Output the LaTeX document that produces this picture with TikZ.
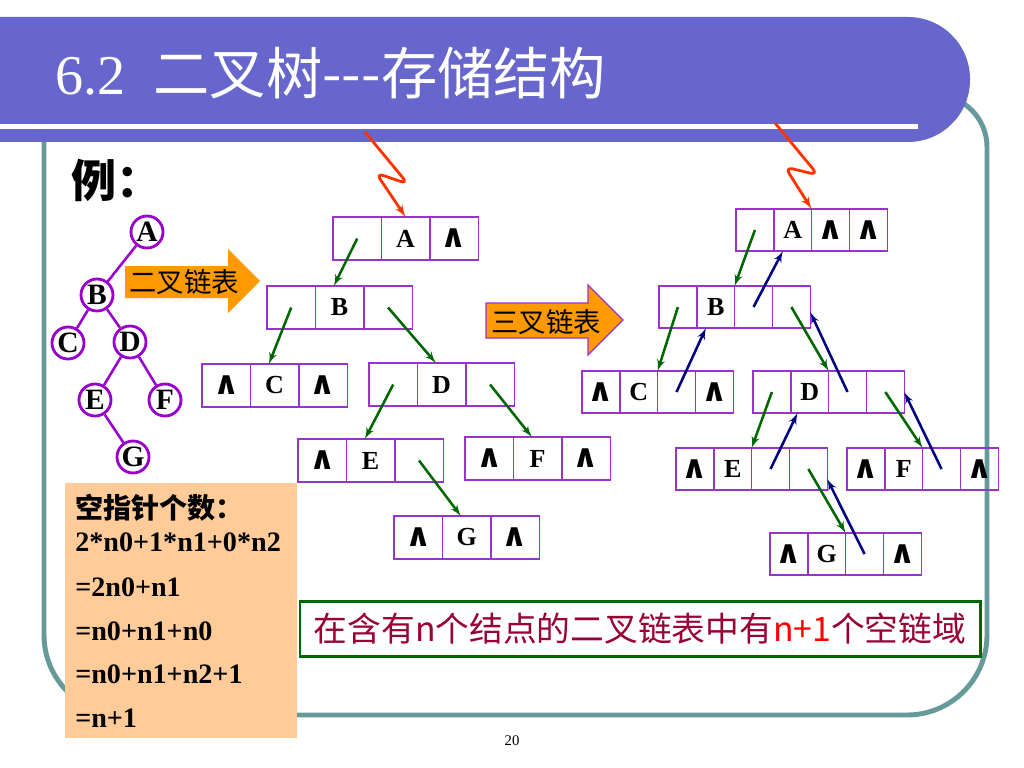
\documentclass[tikz,border=0pt]{standalone}
\usepackage{fontspec}
\setmainfont{Liberation Serif}
\newfontfamily\cjk{Noto Sans CJK SC}
\newfontfamily\dejavu{DejaVu Sans}
\usetikzlibrary{shapes,arrows,positioning}

\definecolor{bannerblue}{RGB}{102,102,204}
\definecolor{frameteal}{RGB}{102,153,153}
\definecolor{boxpurple}{RGB}{153,51,204}
\definecolor{treepurple}{RGB}{153,0,204}
\definecolor{linkgreen}{RGB}{0,102,0}
\definecolor{linknavy}{RGB}{0,0,128}
\definecolor{arroworange}{RGB}{255,153,0}
\definecolor{peach}{RGB}{255,204,153}
\definecolor{zigred}{RGB}{255,51,0}
\definecolor{noteword}{RGB}{153,0,51}
\definecolor{noteframe}{RGB}{0,102,0}

\newcommand{\nil}{{\dejavu\bfseries\fontsize{23}{24}\selectfont ∧}}

\tikzstyle{vertex} = [circle, draw=treepurple, line width=2pt, inner sep=0pt,
    minimum size=0.8cm, font=\fontsize{21}{22}\selectfont\bfseries]
\tikzstyle{treeedge} = [draw=treepurple, line width=1.8pt]
\tikzstyle{field} = [rectangle, draw=boxpurple, line width=1pt, inner sep=0pt, outer sep=0pt,
    minimum width=1.21cm, minimum height=1.075cm, font=\fontsize{18.5}{20}\selectfont\bfseries]
\tikzstyle{tfield} = [field, minimum width=0.945cm, minimum height=1.05cm]
\tikzstyle{childlink} = [draw, -latex', linkgreen, line width=1.8pt]
\tikzstyle{parentlink} = [draw, -latex', linknavy, line width=1.8pt]
\tikzstyle{headptr} = [draw, -latex', zigred, line width=2pt, rounded corners=0.2cm]
\tikzstyle{arrowlbl} = [inner sep=0pt, font=\cjk\fontsize{19.5}{22}\selectfont]
\tikzstyle{sumline} = [anchor=west, inner sep=0pt, font=\fontsize{20}{22}\selectfont\bfseries]
\tikzstyle{note} = [draw=noteframe, line width=2pt, fill=white, minimum width=17cm,
    minimum height=1.375cm, text=noteword, font=\cjk\fontsize{24}{26}\selectfont]

\begin{document}
\begin{tikzpicture}[x=0.025cm, y=-0.025cm]

        \useasboundingbox (0,0) rectangle (1024,768);
        \fill [white] (0,0) rectangle (1024,768);

        % Slide frame and title
        \draw [frameteal, line width=3.5pt] (44,130) [rounded corners=2cm] -- (44,715) -- (987,715)
            -- (987,400) [rounded corners=1.3cm] -- (987,95) -- (900,95);
        \fill [bannerblue, rounded corners=1.55cm] (-100,17) -- (970,17) -- (970,142) -- (-100,142) -- cycle;
        \fill [white] (0,124) rectangle (918,129);
        \node [anchor=base west, inner sep=0pt, text=white] (title) at (55,95)
            {\fontsize{40}{44}\selectfont 6.2\hspace{0.5em}{\cjk 二叉树-{}-{}-存储结构}};
        \node [anchor=west, inner sep=0pt] (example) at (71,180)
            {\cjk\bfseries\fontsize{32}{34}\selectfont 例：};

        % Place tree nodes
        \node [vertex] (va) at (147,232) {A};
        \node [vertex] (vb) at (97,295) {B};
        \node [vertex] (vc) at (68,343) {C};
        \node [vertex] (vd) at (130,342) {D};
        \node [vertex] (ve) at (95,400) {E};
        \node [vertex] (vf) at (165,400) {F};
        \node [vertex] (vg) at (133,457) {G};

        % Draw tree edges
        \path [treeedge] (va) -- (vb);
        \path [treeedge] (vb) -- (vc);
        \path [treeedge] (vb) -- (vd);
        \path [treeedge] (vd) -- (ve);
        \path [treeedge] (vd) -- (vf);
        \path [treeedge] (ve) -- (vg);

        % Big arrows
        \fill [arroworange] (125,266) -- (228,266) -- (228,249) -- (260,281) -- (228,313) -- (228,298) -- (125,298) -- cycle;
        \node [arrowlbl] (binlbl) at (184,282) {二叉链表};
        \filldraw [fill=arroworange, draw=boxpurple, line width=0.8pt] (486,303) -- (588,303) -- (588,285) -- (623,320)
            -- (588,355) -- (588,338) -- (486,338) -- cycle;
        \node [arrowlbl] (trilbl) at (546,322) {三叉链表};

        % Place binary list nodes
        \node [field, anchor=north west] (ba1) at (333,217) {};
        \node [field, right=0pt of ba1] (ba2) {A};
        \node [field, right=0pt of ba2] (ba3) {\nil};
        \node [field, anchor=north west] (bb1) at (267,286) {};
        \node [field, right=0pt of bb1] (bb2) {B};
        \node [field, right=0pt of bb2] (bb3) {};
        \node [field, anchor=north west] (bc1) at (202,364) {\nil};
        \node [field, right=0pt of bc1] (bc2) {C};
        \node [field, right=0pt of bc2] (bc3) {\nil};
        \node [field, anchor=north west] (bd1) at (369,363) {};
        \node [field, right=0pt of bd1] (bd2) {D};
        \node [field, right=0pt of bd2] (bd3) {};
        \node [field, anchor=north west] (be1) at (298,439) {\nil};
        \node [field, right=0pt of be1] (be2) {E};
        \node [field, right=0pt of be2] (be3) {};
        \node [field, anchor=north west] (bf1) at (465,437) {\nil};
        \node [field, right=0pt of bf1] (bf2) {F};
        \node [field, right=0pt of bf2] (bf3) {\nil};
        \node [field, anchor=north west] (bg1) at (394,516) {\nil};
        \node [field, right=0pt of bg1] (bg2) {G};
        \node [field, right=0pt of bg2] (bg3) {\nil};

        % Place triple list nodes
        \node [tfield, anchor=north west] (ta1) at (736,209) {};
        \node [tfield, right=0pt of ta1] (ta2) {A};
        \node [tfield, right=0pt of ta2] (ta3) {\nil};
        \node [tfield, right=0pt of ta3] (ta4) {\nil};
        \node [tfield, anchor=north west] (tb1) at (659,286) {};
        \node [tfield, right=0pt of tb1] (tb2) {B};
        \node [tfield, right=0pt of tb2] (tb3) {};
        \node [tfield, right=0pt of tb3] (tb4) {};
        \node [tfield, anchor=north west] (tc1) at (582,371) {\nil};
        \node [tfield, right=0pt of tc1] (tc2) {C};
        \node [tfield, right=0pt of tc2] (tc3) {};
        \node [tfield, right=0pt of tc3] (tc4) {\nil};
        \node [tfield, anchor=north west] (td1) at (753,371) {};
        \node [tfield, right=0pt of td1] (td2) {D};
        \node [tfield, right=0pt of td2] (td3) {};
        \node [tfield, right=0pt of td3] (td4) {};
        \node [tfield, anchor=north west] (te1) at (676,448) {\nil};
        \node [tfield, right=0pt of te1] (te2) {E};
        \node [tfield, right=0pt of te2] (te3) {};
        \node [tfield, right=0pt of te3] (te4) {};
        \node [tfield, anchor=north west] (tf1) at (847,448) {\nil};
        \node [tfield, right=0pt of tf1] (tf2) {F};
        \node [tfield, right=0pt of tf2] (tf3) {};
        \node [tfield, right=0pt of tf3] (tf4) {\nil};
        \node [tfield, anchor=north west] (tg1) at (770,533) {\nil};
        \node [tfield, right=0pt of tg1] (tg2) {G};
        \node [tfield, right=0pt of tg2] (tg3) {};
        \node [tfield, right=0pt of tg3] (tg4) {\nil};

        % Head pointers
        \coordinate (bhead) at (365,132);
        \coordinate (thead) at (775,123);
        \path [headptr] (bhead) -- (408,184) -- (376,173) -- (ba2.north);
        \path [headptr] (thead) -- (818,175) -- (785,167) -- (ta2.north east);

        % Draw binary links
        \path [childlink] (ba1.center) -- (bb2.105);
        \path [childlink] (bb1.center) -- (bc2.105);
        \path [childlink] (bb3.center) -- (bd2.105);
        \path [childlink] (bd1.center) -- (be2.105);
        \path [childlink] (bd3.center) -- (bf2.105);
        \path [childlink] (be3.center) -- (bg2.105);

        % Draw triple links
        \path [childlink] (ta1.center) -- (tb3.north west);
        \path [childlink] (tb1.center) -- (tc3.north west);
        \path [childlink] (tb4.center) -- (td3.north west);
        \path [childlink] (td1.center) -- (te3.north west);
        \path [childlink] (td4.center) -- (tf3.north west);
        \path [childlink] (te4.center) -- (tg3.north west);
        \path [parentlink] (tb3.center) -- (ta2.245);
        \path [parentlink] (tc3.center) -- (tb2.245);
        \path [parentlink] (td3.center) -- (tb4.-15);
        \path [parentlink] (te3.center) -- (td2.240);
        \path [parentlink] (tf3.center) -- (td4.east);
        \path [parentlink] (tg3.center) -- (te4.-28);

        % Null pointer count
        \node [fill=peach, anchor=north west, minimum width=5.8cm, minimum height=6.375cm] (sumbox) at (65,483) {};
        \node [sumline] (sum1) at (75,508) {\cjk\bfseries 空指针个数：};
        \node [sumline] (sum2) at (75,542) {2*n0+1*n1+0*n2};
        \node [sumline] (sum3) at (75,587) {=2n0+n1};
        \node [sumline] (sum4) at (75,631) {=n0+n1+n0};
        \node [sumline] (sum5) at (75,674) {=n0+n1+n2+1};
        \node [sumline] (sum6) at (75,718) {=n+1};

        \node [note] (note) at (640,629) {在含有n个结点的二叉链表中有{\color{red}n+1}个空链域};
        \node [font=\fontsize{10.5}{12}\selectfont] (pageno) at (512,741) {20};
    \end{tikzpicture}
\end{document}
